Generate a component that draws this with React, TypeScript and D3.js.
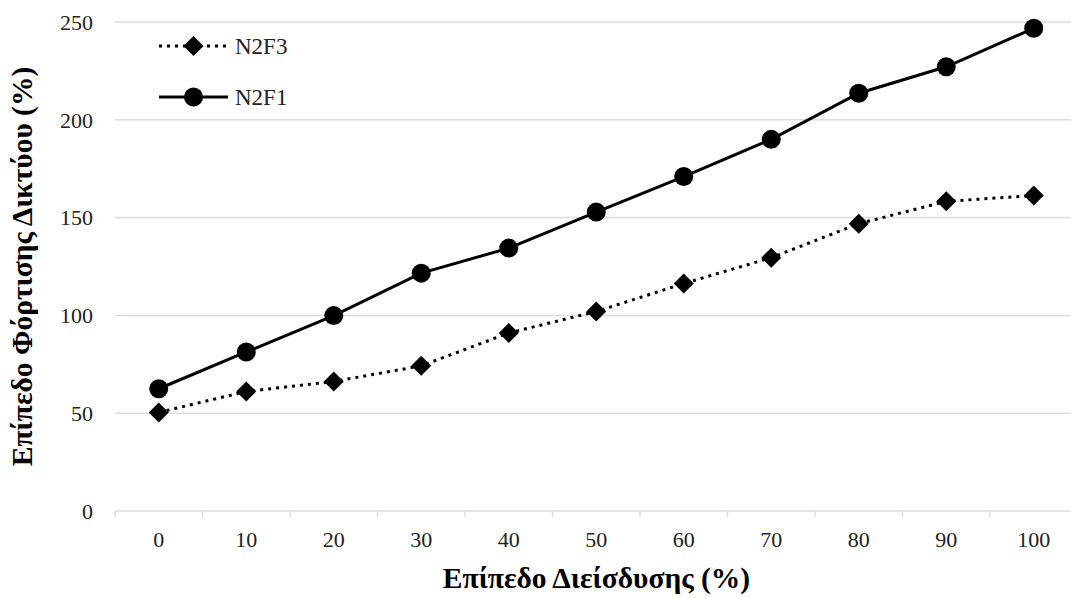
import React from "react";
import * as d3 from "d3";

const categories = ["0", "10", "20", "30", "40", "50", "60", "70", "80", "90", "100"];
const n2f3 = [50.4, 61.1, 66.2, 74.2, 91, 102, 116.3, 129.5, 146.9, 158.3, 161.3];
const n2f1 = [62.5, 81.3, 99.9, 121.6, 134.4, 152.8, 171, 190, 213.6, 227.1, 246.8];
const yTicks = [0, 50, 100, 150, 200, 250];

const W = 1071;
const H = 598;
const left = 115;
const right = 1077.5;
const top = 22;
const bottom = 511;
const serif = "'Liberation Serif', 'Times New Roman', serif";

export default function App() {
  const x = d3.scaleBand<string>().domain(categories).range([left, right]);
  const y = d3.scaleLinear().domain([0, 250]).range([bottom, top]);
  const cx = (c: string) => (x(c) as number) + x.bandwidth() / 2;
  const line = d3
    .line<number>()
    .x((_, i) => cx(categories[i]))
    .y((d) => y(d));
  const diamond = (px: number, py: number, r: number) =>
    `M${px},${py - r}L${px + r},${py}L${px},${py + r}L${px - r},${py}Z`;

  return (
    <svg
      width={W}
      height={H}
      style={{ position: "absolute", left: 0, top: 0, background: "#fff" }}
    >
      {yTicks.map((t) => (
        <line
          key={"g" + t}
          x1={left}
          x2={W}
          y1={y(t)}
          y2={y(t)}
          stroke="#d9dce1"
          strokeWidth={1.5}
        />
      ))}
      {d3.range(categories.length + 1).map((i) => {
        const xx = left + i * x.step();
        return (
          <line key={"t" + i} x1={xx} x2={xx} y1={bottom} y2={bottom + 6} stroke="#d9dce1" strokeWidth={1.5} />
        );
      })}
      {yTicks.map((t) => (
        <text
          key={"yl" + t}
          x={93}
          y={y(t)}
          dy="0.35em"
          textAnchor="end"
          fontFamily={serif}
          fontSize={22}
          fill="#222"
        >
          {t}
        </text>
      ))}
      {categories.map((c) => (
        <text
          key={"xl" + c}
          x={cx(c)}
          y={547}
          textAnchor="middle"
          fontFamily={serif}
          fontSize={22}
          fill="#222"
        >
          {c}
        </text>
      ))}
      <path d={line(n2f3) || ""} fill="none" stroke="#000" strokeWidth={3} strokeDasharray="3 5" />
      <path d={line(n2f1) || ""} fill="none" stroke="#000" strokeWidth={3} />
      {n2f3.map((v, i) => (
        <path key={"d" + i} d={diamond(cx(categories[i]), y(v), 10)} fill="#000" />
      ))}
      {n2f1.map((v, i) => (
        <circle key={"c" + i} cx={cx(categories[i])} cy={y(v)} r={9.5} fill="#000" />
      ))}
      {/* legend */}
      <line x1={159} x2={228} y1={46} y2={46} stroke="#000" strokeWidth={3} strokeDasharray="3 5" />
      <path d={diamond(193.5, 46, 10)} fill="#000" />
      <text x={235} y={54} fontFamily={serif} fontSize={23} fill="#222">
        N2F3
      </text>
      <line x1={159} x2={228} y1={97} y2={97} stroke="#000" strokeWidth={3} />
      <circle cx={193.5} cy={97} r={9.5} fill="#000" />
      <text x={235} y={105} fontFamily={serif} fontSize={23} fill="#222">
        N2F1
      </text>
      <text
        x={596.5}
        y={588}
        textAnchor="middle"
        fontFamily={serif}
        fontSize={29.5}
        fontWeight="bold"
        fill="#000"
      >
        Επίπεδο Διείσδυσης (%)
      </text>
      <text
        transform={`translate(32,${(top + bottom) / 2}) rotate(-90)`}
        textAnchor="middle"
        fontFamily={serif}
        fontSize={29.5}
        fontWeight="bold"
        fill="#000"
      >
        Επίπεδο Φόρτισης Δικτύου (%)
      </text>
    </svg>
  );
}
